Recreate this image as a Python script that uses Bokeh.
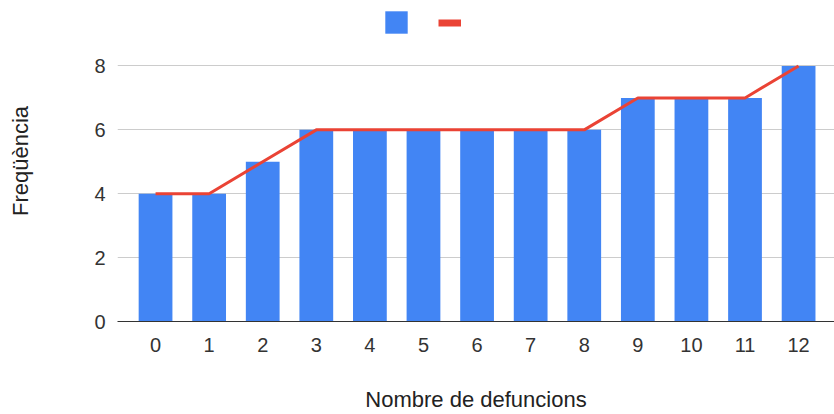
from bokeh.plotting import figure
from bokeh.models import ColumnDataSource, Legend, LegendItem, FixedTicker, Range1d
from bokeh.embed import file_html
from bokeh.resources import INLINE

categories = [0, 1, 2, 3, 4, 5, 6, 7, 8, 9, 10, 11, 12]
frequencies = [4, 4, 5, 6, 6, 6, 6, 6, 6, 7, 7, 7, 8]
cumulative_line = [4, 4, 5, 6, 6, 6, 6, 6, 6, 7, 7, 7, 8]
y_ticks = [0, 2, 4, 6, 8]

BLUE = "#4285F4"
RED = "#EA4335"
FONT = "Liberation Sans"
NAN = float("nan")

src = ColumnDataSource(dict(x=categories, top=frequencies, line=cumulative_line))
# placeholder sources used only to style the legend swatches (nothing visible is drawn)
swatch = ColumnDataSource(dict(x=[NAN], top=[NAN], line=[NAN]))

p = figure(width=834, height=414, output_backend="svg", toolbar_location=None,
           x_range=Range1d(-0.71, 12.67), y_range=Range1d(0, 10.05),
           min_border_left=117, min_border_right=0, min_border_top=0, min_border_bottom=89)
p.outline_line_color = None
p.background_fill_color = "white"

p.vbar(x="x", top="top", width=0.63, source=src, fill_color=BLUE, line_color=None)
p.line(x="x", y="line", source=src, line_color=RED, line_width=3)

leg_bar = p.vbar(x="x", top="top", width=0.6, source=swatch, fill_color=BLUE, line_color=None)
leg_line = p.line(x="x", y="line", source=swatch, line_color=RED, line_width=7)

common = dict(orientation="horizontal", label_standoff=0, label_width=0,
              label_text_font_size="10px", padding=0, margin=0,
              border_line_color=None, background_fill_alpha=0)
legend_bar = Legend(items=[LegendItem(label=" ", renderers=[leg_bar])],
                    location=(265, 285), glyph_width=28, glyph_height=28, **common)
legend_line = Legend(items=[LegendItem(label=" ", renderers=[leg_line])],
                     location=(321, 287), glyph_width=23, glyph_height=23, **common)
p.add_layout(legend_bar, "center")
p.add_layout(legend_line, "center")

p.xaxis.ticker = FixedTicker(ticks=categories)
p.yaxis.ticker = FixedTicker(ticks=y_ticks)
p.xgrid.grid_line_color = None
p.ygrid.grid_line_color = "#cccccc"
p.ygrid.grid_line_width = 1

for ax in (p.xaxis, p.yaxis):
    ax.major_tick_line_color = None
    ax.minor_tick_line_color = None
    ax.major_label_text_font = FONT
    ax.major_label_text_font_size = "20px"
    ax.major_label_text_color = "#333333"
    ax.axis_label_text_font = FONT
    ax.axis_label_text_font_size = "22px"
    ax.axis_label_text_font_style = "normal"
    ax.axis_label_text_color = "#222222"

p.xaxis.axis_line_color = "#333333"
p.xaxis.axis_line_width = 1
p.yaxis.axis_line_color = None
p.xaxis.axis_label = "Nombre de defuncions"
p.yaxis.axis_label = "Freqüència"
p.xaxis.major_label_standoff = 10
p.xaxis.axis_label_standoff = 32
p.yaxis.major_label_standoff = 6
p.yaxis.axis_label_standoff = 58

open("out.html", "w").write(file_html(p, INLINE))
